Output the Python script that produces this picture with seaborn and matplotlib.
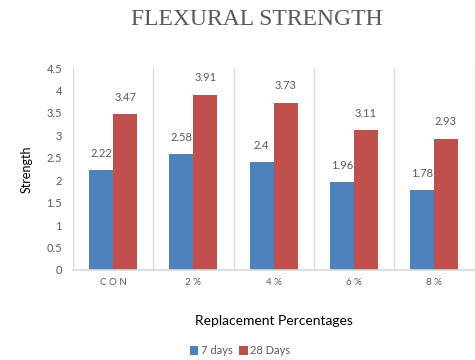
import numpy as np
import pandas as pd
import matplotlib
matplotlib.use("Agg")
import matplotlib.pyplot as plt
import seaborn as sns

categories = ["CON", "2%", "4%", "6%", "8%"]
days7 = [2.22, 2.58, 2.4, 1.96, 1.78]
days28 = [3.47, 3.91, 3.73, 3.11, 2.93]
series = ["7 days", "28 Days"]
yticks = [0, 0.5, 1, 1.5, 2, 2.5, 3, 3.5, 4, 4.5]

df = pd.DataFrame({
    "cat": categories * 2,
    "val": days7 + days28,
    "series": [series[0]] * len(categories) + [series[1]] * len(categories),
})

sns.set_theme(style="white")
plt.rcParams['font.family'] = ['Lato', 'DejaVu Sans']

fig = plt.figure(figsize=(4.75, 3.6), dpi=100)
ax = fig.add_axes([0.154, 0.25, 0.844, 0.561])
palette = {"7 days": "#4F81BD", "28 Days": "#C0504D"}
sns.barplot(data=df, x="cat", y="val", hue="series", palette=palette,
            width=0.6, saturation=1, ax=ax, legend=True, linewidth=0)

ax.set_ylim(0, 4.5)
ax.set_xlim(-0.5, 4.5)
ax.set_yticks(yticks)
ax.set_yticklabels([f"{t:g}" for t in yticks], color="#595959", fontsize=8)
ax.set_xticks(range(len(categories)))
ax.set_xticklabels([" ".join(c) for c in categories], color="#595959", fontsize=7)
ax.tick_params(axis="both", length=0, pad=6)
ax.tick_params(axis="y", pad=8)

ax.set_xticks(np.arange(-0.5, len(categories) + 0.5, 1), minor=True)
ax.xaxis.grid(True, which="minor", color="#D9D9D9", linewidth=0.9)
ax.xaxis.grid(False, which="major")
ax.yaxis.grid(False)
for s in ["top", "right", "left"]:
    ax.spines[s].set_visible(False)
ax.spines["bottom"].set_color("#D9D9D9")

for cont in ax.containers:
    ax.bar_label(cont, labels=[f"{v:g}" for v in cont.datavalues],
                 padding=8, color="#595959", fontsize=8)

ax.set_ylabel("Strength", fontsize=9, color="black", labelpad=10)
ax.set_xlabel("Replacement Percentages", fontsize=10, color="black", labelpad=20)

leg = ax.legend(loc="center", bbox_to_anchor=(0.416, -0.40), ncol=2,
                frameon=False, fontsize=8, handlelength=0.8, handleheight=0.8,
                handletextpad=0.2, columnspacing=0.6)
for t in leg.get_texts():
    t.set_color("#595959")

fig.text(0.54, 0.945, "FLEXURAL STRENGTH", ha="center", va="center",
         fontsize=17, color="#595959", family=["Liberation Serif", "DejaVu Serif"])

fig.savefig("out.png", dpi=100)
